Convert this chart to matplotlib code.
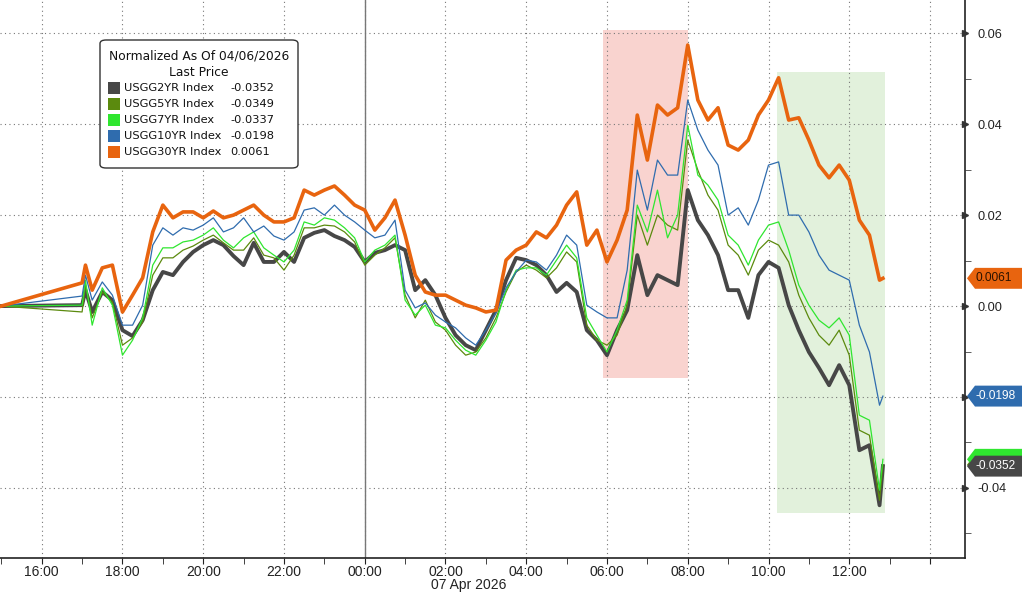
import pandas as pd
import matplotlib.pyplot as plt
import matplotlib.dates as mdates
from matplotlib.patches import Polygon, FancyBboxPatch, Rectangle
from matplotlib.ticker import FuncFormatter
from matplotlib.transforms import blended_transform_factory

# --- data: yield change vs 04/06/2026 close (15 min sampling) ---
times = (["2026-04-06 15:00", "2026-04-06 17:00", "2026-04-06 17:05"]
         + list(pd.date_range("2026-04-06 17:15", "2026-04-07 12:45", freq="15min")
                .strftime("%Y-%m-%d %H:%M"))
         + ["2026-04-07 12:50"])
times = pd.to_datetime(times)

usgg2 = [0.0, 0.0002, 0.0035,
         -0.0013, 0.0031, 0.0013,
         -0.0053, -0.0066, -0.0031, 0.0035,
         0.0075, 0.0068, 0.0097, 0.0119,
         0.0134, 0.0145, 0.0134, 0.0110,
         0.0090, 0.0139, 0.0097, 0.0097,
         0.0119, 0.0097, 0.0150, 0.0161,
         0.0167, 0.0154, 0.0145, 0.0130,
         0.0097, 0.0117, 0.0123, 0.0134,
         0.0123, 0.0035, 0.0057, 0.0024,
         -0.0026, -0.0064, -0.0086, -0.0097,
         -0.0053, -0.0009, 0.0057, 0.0106,
         0.0101, 0.0090, 0.0068, 0.0031,
         0.0051, 0.0031, -0.0053, -0.0075,
         -0.0108, -0.0053, -0.0009, 0.0112,
         0.0024, 0.0068, 0.0057, 0.0046,
         0.0255, 0.0189, 0.0156, 0.0112,
         0.0035, 0.0035, -0.0026, 0.0068,
         0.0097, 0.0084, 0.0002, -0.0053,
         -0.0101, -0.0136, -0.0174, -0.0130,
         -0.0174, -0.0317, -0.0306, -0.0438,
         -0.0352]

usgg5 = [0.0, -0.0013, 0.0046,
         -0.0026, 0.0031, 0.0009,
         -0.0086, -0.0070, -0.0035, 0.0068,
         0.0106, 0.0106, 0.0123, 0.0132,
         0.0145, 0.0156, 0.0139, 0.0123,
         0.0123, 0.0150, 0.0112, 0.0106,
         0.0079, 0.0112, 0.0172, 0.0172,
         0.0178, 0.0176, 0.0163, 0.0141,
         0.0090, 0.0112, 0.0128, 0.0150,
         0.0024, -0.0026, 0.0013, -0.0035,
         -0.0053, -0.0086, -0.0108, -0.0101,
         -0.0070, -0.0026, 0.0031, 0.0075,
         0.0090, 0.0079, 0.0062, 0.0084,
         0.0119, 0.0097, -0.0042, -0.0075,
         -0.0086, -0.0064, 0.0002, 0.0200,
         0.0134, 0.0200, 0.0178, 0.0167,
         0.0365, 0.0299, 0.0244, 0.0211,
         0.0134, 0.0112, 0.0068, 0.0123,
         0.0145, 0.0134, 0.0097, 0.0024,
         -0.0026, -0.0064, -0.0086, -0.0053,
         -0.0108, -0.0273, -0.0284, -0.0427,
         -0.0349]

usgg7 = [0.0, 0.0002, 0.0057,
         -0.0042, 0.0040, 0.0002,
         -0.0108, -0.0075, -0.0026, 0.0090,
         0.0128, 0.0128, 0.0141, 0.0145,
         0.0156, 0.0172, 0.0145, 0.0128,
         0.0150, 0.0163, 0.0128, 0.0112,
         0.0097, 0.0123, 0.0185, 0.0178,
         0.0194, 0.0189, 0.0172, 0.0150,
         0.0097, 0.0123, 0.0134, 0.0156,
         0.0013, -0.0020, 0.0002, -0.0042,
         -0.0048, -0.0075, -0.0097, -0.0108,
         -0.0075, -0.0035, 0.0035, 0.0079,
         0.0084, 0.0084, 0.0068, 0.0101,
         0.0134, 0.0106, -0.0026, -0.0064,
         -0.0101, -0.0053, 0.0013, 0.0222,
         0.0163, 0.0255, 0.0150, 0.0200,
         0.0398, 0.0288, 0.0266, 0.0233,
         0.0156, 0.0134, 0.0090, 0.0145,
         0.0178, 0.0185, 0.0123, 0.0046,
         0.0002, -0.0031, -0.0048, -0.0026,
         -0.0064, -0.0240, -0.0251, -0.0405,
         -0.0337]

usgg10 = [0.0, 0.0022, 0.0068,
          0.0013, 0.0053, 0.0024,
          -0.0042, -0.0042, 0.0002, 0.0134,
          0.0172, 0.0156, 0.0172, 0.0167,
          0.0178, 0.0194, 0.0163, 0.0172,
          0.0194, 0.0163, 0.0176, 0.0154,
          0.0145, 0.0163, 0.0211, 0.0216,
          0.0200, 0.0222, 0.0200, 0.0185,
          0.0167, 0.0150, 0.0156, 0.0189,
          0.0035, -0.0004, 0.0007, -0.0020,
          -0.0035, -0.0048, -0.0070, -0.0086,
          -0.0053, -0.0015, 0.0040, 0.0075,
          0.0101, 0.0097, 0.0079, 0.0112,
          0.0156, 0.0134, 0.0002, -0.0013,
          -0.0026, -0.0026, 0.0079, 0.0299,
          0.0211, 0.0321, 0.0288, 0.0288,
          0.0453, 0.0387, 0.0343, 0.0310,
          0.0200, 0.0216, 0.0178, 0.0233,
          0.0310, 0.0317, 0.0200, 0.0200,
          0.0163, 0.0112, 0.0079, 0.0068,
          0.0057, -0.0042, -0.0101, -0.0218,
          -0.0198]

usgg30 = [0.0, 0.0051, 0.0090,
          0.0035, 0.0084, 0.0090,
          -0.0013, 0.0024, 0.0062, 0.0163,
          0.0222, 0.0194, 0.0207, 0.0207,
          0.0194, 0.0209, 0.0194, 0.0200,
          0.0211, 0.0222, 0.0200, 0.0185,
          0.0185, 0.0194, 0.0255, 0.0244,
          0.0255, 0.0264, 0.0244, 0.0222,
          0.0211, 0.0167, 0.0194, 0.0233,
          0.0156, 0.0068, 0.0031, 0.0024,
          0.0024, 0.0013, 0.0002, -0.0004,
          -0.0013, -0.0009, 0.0101, 0.0123,
          0.0134, 0.0163, 0.0150, 0.0178,
          0.0222, 0.0251, 0.0134, 0.0167,
          0.0097, 0.0145, 0.0211, 0.0420,
          0.0321, 0.0442, 0.0420, 0.0436,
          0.0574, 0.0453, 0.0409, 0.0436,
          0.0354, 0.0343, 0.0365, 0.0420,
          0.0453, 0.0502, 0.0409, 0.0414,
          0.0365, 0.0310, 0.0282, 0.0310,
          0.0277, 0.0189, 0.0156, 0.0057,
          0.0061]

names = ["USGG2YR Index", "USGG5YR Index", "USGG7YR Index", "USGG10YR Index", "USGG30YR Index"]
series = [usgg2, usgg5, usgg7, usgg10, usgg30]
colors = ["#474747", "#5b8a0e", "#2fe62f", "#2f6cae", "#e8640f"]
widths = [2.8, 0.9, 0.9, 0.9, 2.6]

# highlighted windows
red_box = ("2026-04-07 05:54", "2026-04-07 08:00", -0.0158, 0.0607)
green_box = ("2026-04-07 10:13", "2026-04-07 12:53", -0.0455, 0.0514)

W, H = 1022, 592
fig = plt.figure(figsize=(W / 100, H / 100), dpi=100)
ax = fig.add_axes([0, (H - 558) / H, 965 / W, 558 / H])

def fx(px):
    return px / W

def fy(py):
    return 1 - py / H

# shaded windows
for (t0, t1, y0, y1), c in [(red_box, "#f9d3cf"), (green_box, "#e2f1dc")]:
    ax.fill_between(pd.to_datetime([t0, t1]), y0, y1, color=c, lw=0, zorder=0)

# grid + day separator
ax.grid(which="major", axis="both", linestyle=(0, (1, 3)), color="#777777", lw=0.8, zorder=1)
ax.axvline(pd.Timestamp("2026-04-07 00:00"), color="#777777", lw=1, zorder=1)

for vals, c, lw in zip(series, colors, widths):
    ax.plot(times, vals, color=c, lw=lw, zorder=3 if lw > 2 else 4)
ax.lines[-1].set_zorder(5)

ax.set_xlim(pd.Timestamp("2026-04-06 14:58"), pd.Timestamp("2026-04-07 14:52"))
ax.set_ylim(-0.0554, 0.0673)

# axes styling
for s in ["left", "top"]:
    ax.spines[s].set_visible(False)
for s in ["bottom", "right"]:
    ax.spines[s].set_color("#222222")
    ax.spines[s].set_linewidth(1.2)

ax.xaxis.set_major_locator(mdates.HourLocator(byhour=range(0, 24, 2)))
ax.xaxis.set_minor_locator(mdates.HourLocator(byhour=range(1, 24, 2)))

def fmt_hour(x, pos):
    d = mdates.num2date(x)
    if d.day == 7 and d.hour == 14:
        return ""
    return d.strftime("%H:%M")

ax.xaxis.set_major_formatter(FuncFormatter(fmt_hour))
ax.tick_params(axis="x", which="both", length=4, color="#222222", labelsize=10, pad=1,
               labelcolor="#222222")
for lab in ax.get_xticklabels():
    lab.set_fontfamily("Liberation Sans")
fig.text(fx(469), fy(585), "07 Apr 2026", ha="center", va="center", fontsize=10,
         family="Liberation Sans", color="#222222")

yt = [-0.04, -0.02, 0.0, 0.02, 0.04, 0.06]
ax.set_yticks(yt)
ax.set_yticks([-0.05, -0.03, -0.01, 0.01, 0.03, 0.05], minor=True)
ax.yaxis.tick_right()
# the -0.02 label sits under the 10YR last-value tag
ax.yaxis.set_major_formatter(FuncFormatter(lambda v, p: "" if abs(v + 0.02) < 1e-9 else f"{v:.2f}"))
ax.tick_params(axis="y", which="major", length=0, pad=9, labelsize=9.2, labelcolor="#222222")
for lab in ax.get_yticklabels():
    lab.set_fontfamily("Liberation Sans")
ax.tick_params(axis="y", which="minor", length=4, color="#444444")
ax.plot([1] * len(yt), yt, ls="none", marker=">", ms=4, color="#333333",
        transform=blended_transform_factory(ax.transAxes, ax.transData), clip_on=False, zorder=6)

# right-hand last value tags (5YR/7YR sit under the 2YR tag)
tag_tr = blended_transform_factory(fig.transFigure, ax.transData)
tags = [(usgg30[-1], colors[4], "#2a1200", True), (usgg10[-1], colors[3], "white", True),
        (usgg5[-1], colors[1], "white", False), (usgg7[-1], colors[2], "white", False),
        (usgg2[-1], colors[0], "white", True)]
hh = 0.0023
for i, (v, c, tc, show) in enumerate(tags):
    x0, x1 = fx(967), 1.0
    poly = Polygon([(x0, v), (x0 + fx(8), v + hh), (x1, v + hh), (x1, v - hh), (x0 + fx(8), v - hh)],
                   closed=True, transform=tag_tr, facecolor=c, edgecolor="none",
                   clip_on=False, zorder=20 + 2 * i)
    fig.add_artist(poly)
    if show:
        t = fig.text(0, 0, f"{v:.4f}", ha="left", va="center", fontsize=8.6,
                     family="Liberation Sans", color=tc, zorder=21 + 2 * i)
        t.set_transform(tag_tr)
        t.set_position((fx(976), v))

# legend box
box = FancyBboxPatch((fx(100), fy(168)), fx(198), (168 - 40) / H,
                     boxstyle="round,pad=0,rounding_size=0.006", transform=fig.transFigure,
                     facecolor="white", edgecolor="#333333", lw=1, zorder=40)
fig.add_artist(box)
fig.text(fx(199), fy(56), "Normalized As Of 04/06/2026", ha="center", va="center",
         fontsize=8.8, color="#111111", zorder=41)
fig.text(fx(199), fy(72), "Last Price", ha="center", va="center", fontsize=8.8,
         color="#111111", zorder=41)
for k, (nm, vals, c) in enumerate(zip(names, series, colors)):
    yc = 88 + k * 16
    fig.add_artist(Rectangle((fx(108), fy(yc + 6)), fx(12), 12 / H, transform=fig.transFigure,
                             facecolor=c, edgecolor="none", zorder=41))
    fig.text(fx(124), fy(yc), nm, ha="left", va="center", fontsize=8.2, color="#111111", zorder=41)
    fig.text(fx(230), fy(yc), f"{vals[-1]:.4f}", ha="left", va="center", fontsize=8.2,
             color="#111111", zorder=41)

fig.savefig("out.png", dpi=100)
